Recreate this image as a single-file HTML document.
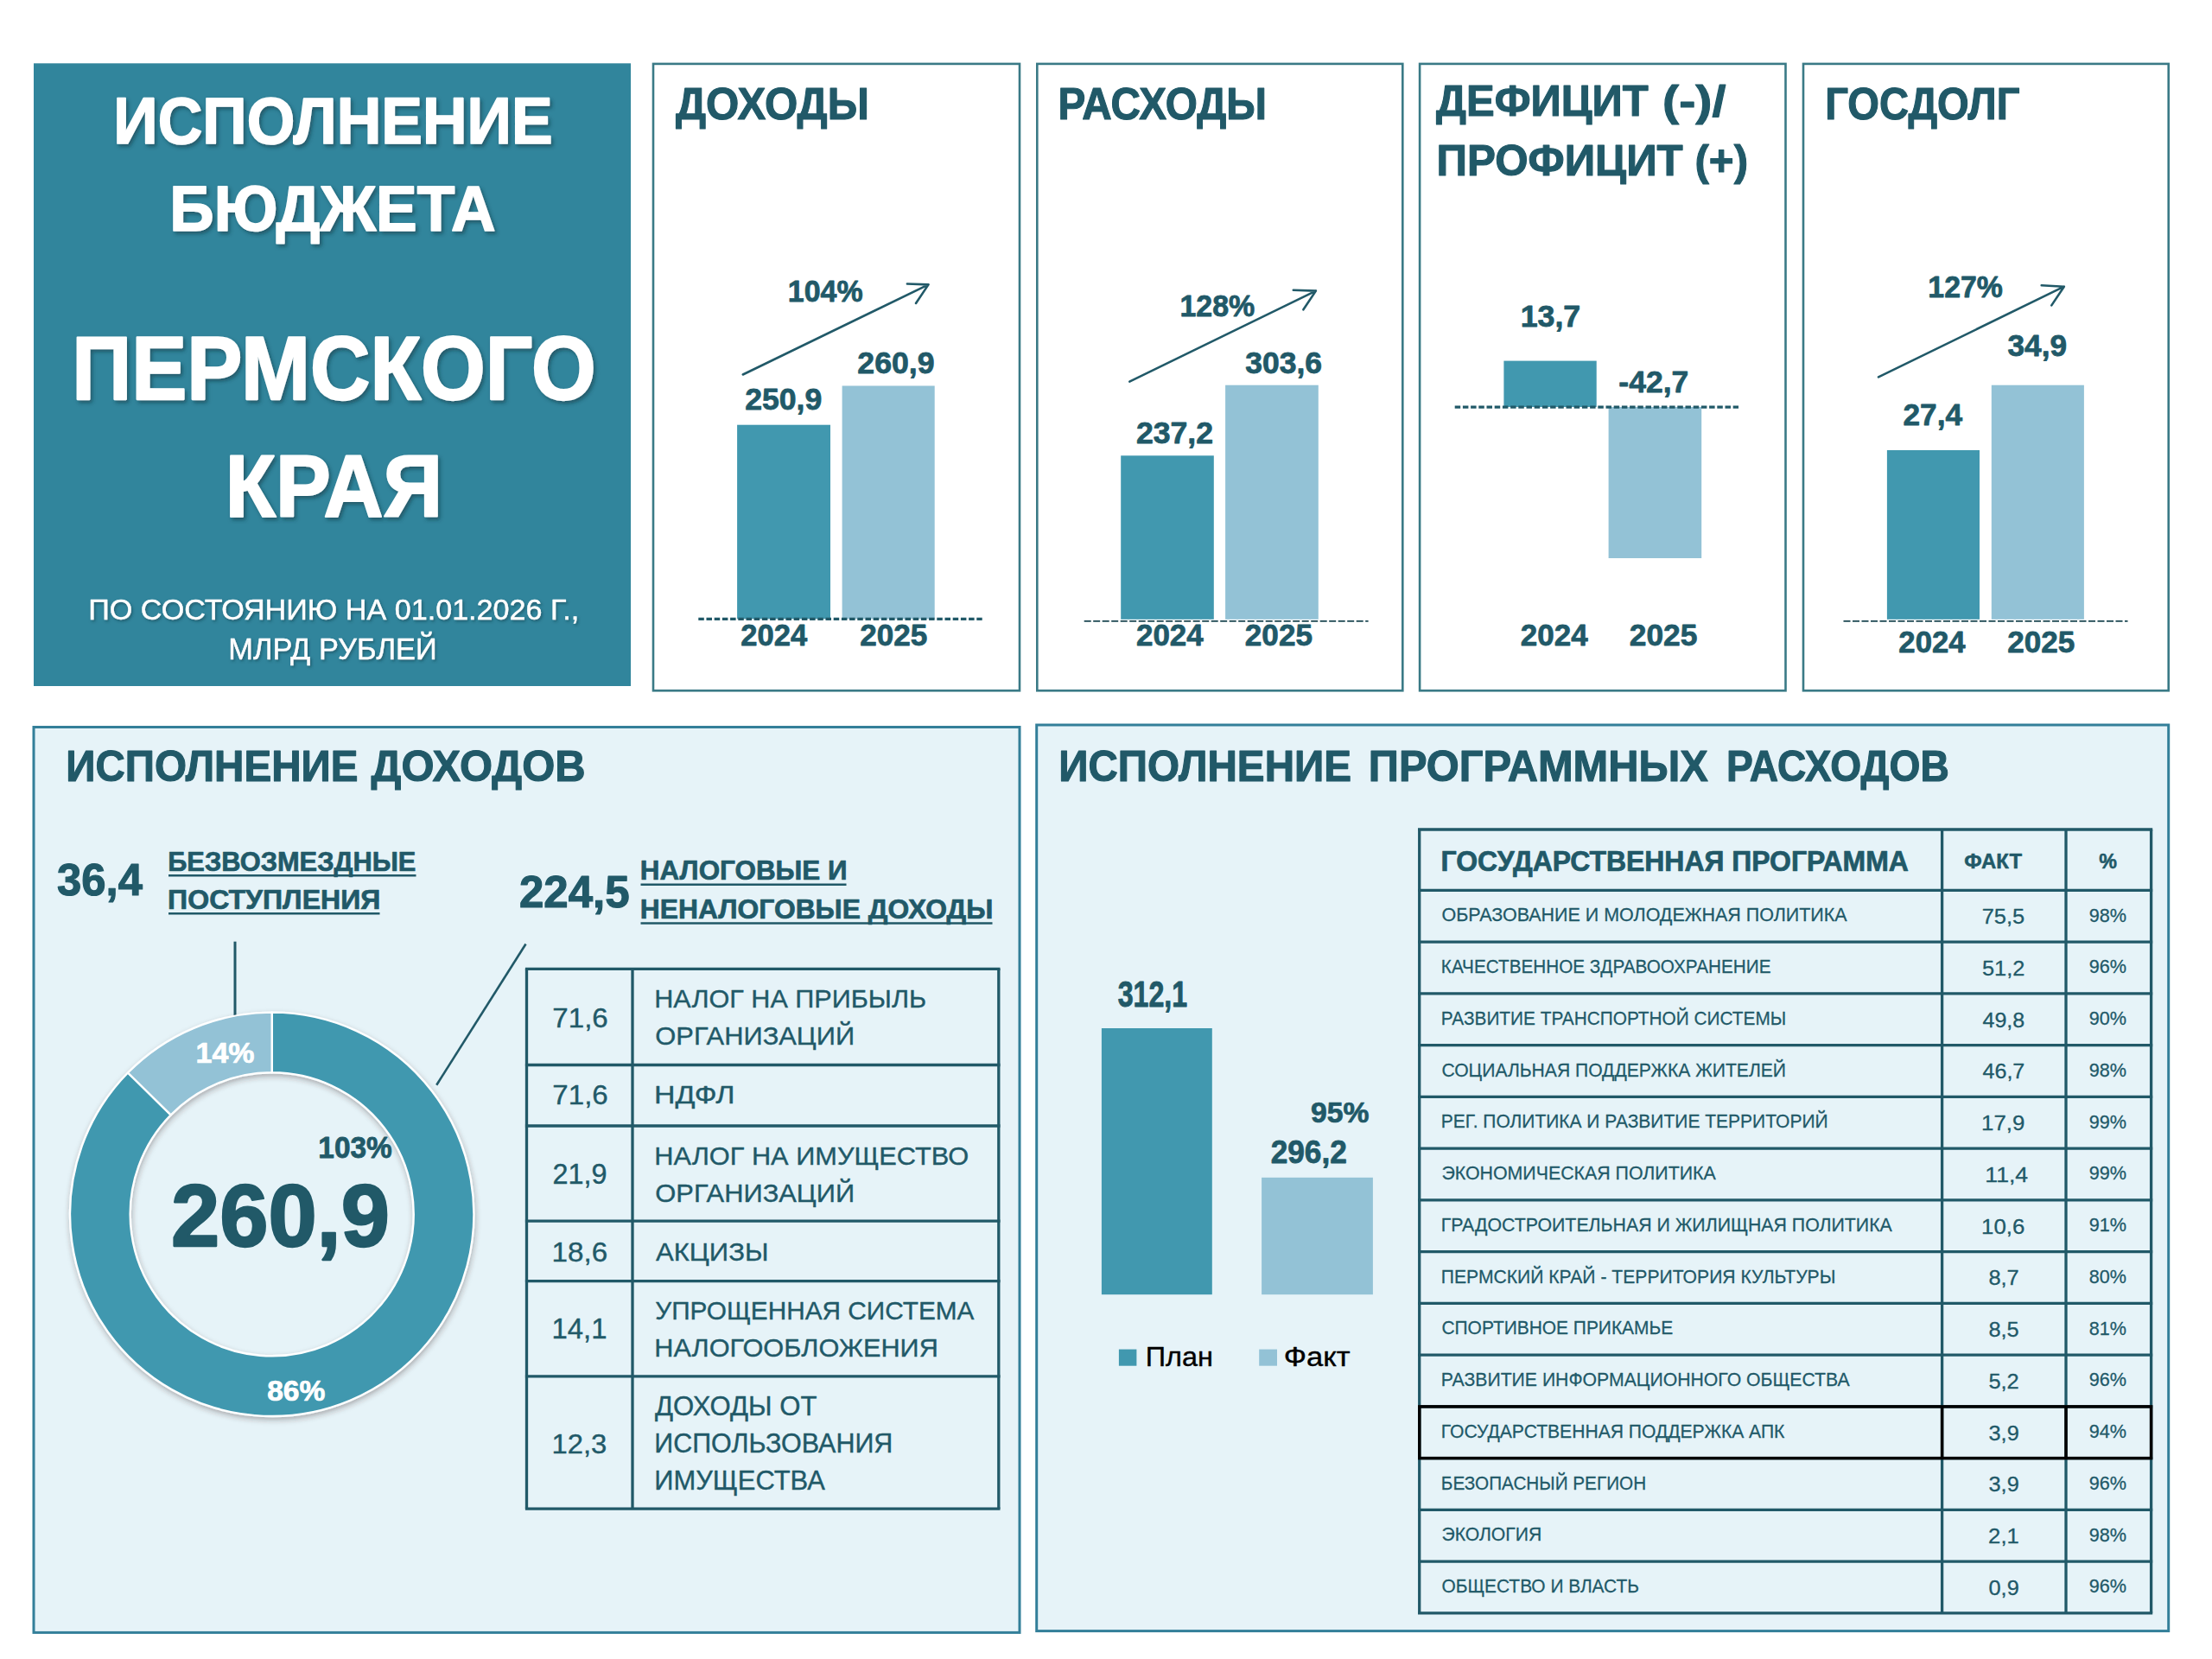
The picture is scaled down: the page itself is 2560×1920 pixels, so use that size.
<!DOCTYPE html>
<html lang="ru"><head><meta charset="utf-8"><title>Исполнение бюджета Пермского края</title>
<style>
html,body{margin:0;padding:0;background:#fff;}
body{width:2560px;height:1920px;overflow:hidden;font-family:"Liberation Sans",sans-serif;}
svg{display:block;}
text{font-family:"Liberation Sans",sans-serif;white-space:pre;}
.sh{filter:url(#tsh);}
.sh2{filter:url(#tsh2);}
</style></head><body>
<svg width="2560" height="1920" viewBox="0 0 2560 1920">
<defs>
<filter id="tsh" x="-5%" y="-20%" width="110%" height="150%"><feDropShadow dx="2.5" dy="3" stdDeviation="2.2" flood-color="#0d3440" flood-opacity="0.55"/></filter>
<filter id="tsh2" x="-5%" y="-20%" width="110%" height="150%"><feDropShadow dx="1.5" dy="2" stdDeviation="1.5" flood-color="#0d3440" flood-opacity="0.5"/></filter>
<filter id="dsh" x="-10%" y="-10%" width="120%" height="120%"><feDropShadow dx="0.8" dy="3.2" stdDeviation="3.2" flood-color="#3b2a2a" flood-opacity="0.34"/></filter>
<filter id="bsh" x="-5%" y="-5%" width="110%" height="110%"><feDropShadow dx="0" dy="1" stdDeviation="1.5" flood-color="#1a4a58" flood-opacity="0.35"/></filter>
</defs>
<rect x="39" y="73.3" width="691" height="720.7" fill="#31859C"/>
<rect x="756.0" y="73.9" width="424.0" height="725.4" fill="#fff" stroke="#3A7A86" stroke-width="2.6"/>
<rect x="1200.3" y="73.9" width="423.0" height="725.4" fill="#fff" stroke="#3A7A86" stroke-width="2.6"/>
<rect x="1643.1" y="73.9" width="423.4" height="725.4" fill="#fff" stroke="#3A7A86" stroke-width="2.6"/>
<rect x="2087.0" y="73.9" width="422.7" height="725.4" fill="#fff" stroke="#3A7A86" stroke-width="2.6"/>
<rect x="39.0" y="841.5" width="1141.0" height="1047.9" fill="#E6F3F8" stroke="#337F99" stroke-width="3.0"/>
<rect x="1199.7" y="839.0" width="1310.0" height="1048.6" fill="#E6F3F8" stroke="#337F99" stroke-width="3.0"/>
<rect x="853.1" y="491.7" width="107.9" height="224.6" fill="#4198AF"/>
<rect x="974.6" y="446.5" width="107.1" height="269.8" fill="#93C2D6"/>
<line x1="808.3" y1="716.3" x2="1136.7" y2="716.3" stroke="#215968" stroke-width="3.2" stroke-dasharray="6.5 2.7"/>
<path d="M859.8 433.5 L1074.5 329.4 M1049.9 328.5 L1074.5 329.4 L1060.0 351.0" fill="none" stroke="#215968" stroke-width="2.6" stroke-linecap="round" stroke-linejoin="round"/>
<rect x="1297.2" y="527.3" width="107.6" height="189.5" fill="#4198AF"/>
<rect x="1418.1" y="445.7" width="107.7" height="271.1" fill="#93C2D6"/>
<line x1="1254.7" y1="718.9" x2="1583.6" y2="718.9" stroke="#1D4853" stroke-width="1.8" stroke-dasharray="8 2.5"/>
<path d="M1307.3 441.6 L1522.9 336.6 M1496.8 335.7 L1522.9 336.6 L1508.4 358.3" fill="none" stroke="#215968" stroke-width="2.6" stroke-linecap="round" stroke-linejoin="round"/>
<rect x="1740.4" y="417.6" width="107.3" height="53.4" fill="#4198AF"/>
<rect x="1861.6" y="471.0" width="107.6" height="175.0" fill="#93C2D6"/>
<line x1="1683.7" y1="471.1" x2="2012.0" y2="471.1" stroke="#215968" stroke-width="3.2" stroke-dasharray="6.5 2.7"/>
<rect x="2183.9" y="521.0" width="107.1" height="195.8" fill="#4198AF"/>
<rect x="2304.8" y="445.7" width="107.1" height="271.1" fill="#93C2D6"/>
<line x1="2133.5" y1="718.9" x2="2462.5" y2="718.9" stroke="#1D4853" stroke-width="1.8" stroke-dasharray="8 2.5"/>
<path d="M2174.0 436.4 L2388.8 331.7 M2362.7 330.2 L2388.8 331.7 L2374.3 353.4" fill="none" stroke="#215968" stroke-width="2.6" stroke-linecap="round" stroke-linejoin="round"/>
<line x1="272" y1="1089.7" x2="272" y2="1175.3" stroke="#215968" stroke-width="3"/>
<line x1="608.5" y1="1092.5" x2="505.2" y2="1255.8" stroke="#215968" stroke-width="2.6"/>
<line x1="195.0" y1="1013.3" x2="481.5" y2="1013.3" stroke="#215968" stroke-width="2.4"/>
<line x1="195.0" y1="1057.3" x2="439.5" y2="1057.3" stroke="#215968" stroke-width="2.4"/>
<line x1="741.5" y1="1023.7" x2="979.5" y2="1023.7" stroke="#215968" stroke-width="2.4"/>
<line x1="741.5" y1="1068.5" x2="1148.5" y2="1068.5" stroke="#215968" stroke-width="2.4"/>
<g filter="url(#dsh)">
<path d="M314.70 1171.60 A233.70 233.70 0 1 1 148.01 1241.50 L197.73 1290.35 A164.00 164.00 0 1 0 314.70 1241.30 Z" fill="#4198AF" stroke="#fff" stroke-width="2.4" stroke-linejoin="round"/>
<path d="M148.01 1241.50 A233.70 233.70 0 0 1 314.70 1171.60 L314.70 1241.30 A164.00 164.00 0 0 0 197.73 1290.35 Z" fill="#93C2D6" stroke="#fff" stroke-width="2.4" stroke-linejoin="round"/>
</g>
<line x1="607.9" y1="1121.3" x2="1157.5" y2="1121.3" stroke="#215968" stroke-width="3.3"/>
<line x1="607.9" y1="1232.5" x2="1157.5" y2="1232.5" stroke="#215968" stroke-width="3.3"/>
<line x1="607.9" y1="1303.0" x2="1157.5" y2="1303.0" stroke="#215968" stroke-width="3.3"/>
<line x1="607.9" y1="1413.2" x2="1157.5" y2="1413.2" stroke="#215968" stroke-width="3.3"/>
<line x1="607.9" y1="1482.7" x2="1157.5" y2="1482.7" stroke="#215968" stroke-width="3.3"/>
<line x1="607.9" y1="1592.8" x2="1157.5" y2="1592.8" stroke="#215968" stroke-width="3.3"/>
<line x1="607.9" y1="1746.1" x2="1157.5" y2="1746.1" stroke="#215968" stroke-width="3.3"/>
<line x1="609.5" y1="1121.3" x2="609.5" y2="1746.1" stroke="#215968" stroke-width="3.3"/>
<line x1="732.0" y1="1121.3" x2="732.0" y2="1746.1" stroke="#215968" stroke-width="3.3"/>
<line x1="1155.8" y1="1121.3" x2="1155.8" y2="1746.1" stroke="#215968" stroke-width="3.3"/>
<rect x="1274.9" y="1190.0" width="127.9" height="308.2" fill="#4198AF"/>
<rect x="1460.1" y="1362.8" width="128.8" height="135.4" fill="#93C2D6"/>
<rect x="1294.9" y="1561.6" width="20.5" height="19.1" fill="#4198AF"/>
<rect x="1457.2" y="1561.6" width="20.8" height="19.1" fill="#93C2D6"/>
<line x1="1641.0" y1="960.0" x2="2491.2" y2="960.0" stroke="#215968" stroke-width="3.3"/>
<line x1="1641.0" y1="1030.4" x2="2491.2" y2="1030.4" stroke="#215968" stroke-width="3.3"/>
<line x1="1641.0" y1="1090.1" x2="2491.2" y2="1090.1" stroke="#215968" stroke-width="3.3"/>
<line x1="1641.0" y1="1149.9" x2="2491.2" y2="1149.9" stroke="#215968" stroke-width="3.3"/>
<line x1="1641.0" y1="1209.6" x2="2491.2" y2="1209.6" stroke="#215968" stroke-width="3.3"/>
<line x1="1641.0" y1="1269.4" x2="2491.2" y2="1269.4" stroke="#215968" stroke-width="3.3"/>
<line x1="1641.0" y1="1329.1" x2="2491.2" y2="1329.1" stroke="#215968" stroke-width="3.3"/>
<line x1="1641.0" y1="1388.9" x2="2491.2" y2="1388.9" stroke="#215968" stroke-width="3.3"/>
<line x1="1641.0" y1="1448.6" x2="2491.2" y2="1448.6" stroke="#215968" stroke-width="3.3"/>
<line x1="1641.0" y1="1508.4" x2="2491.2" y2="1508.4" stroke="#215968" stroke-width="3.3"/>
<line x1="1641.0" y1="1568.1" x2="2491.2" y2="1568.1" stroke="#215968" stroke-width="3.3"/>
<line x1="1641.0" y1="1627.9" x2="2491.2" y2="1627.9" stroke="#215968" stroke-width="3.3"/>
<line x1="1641.0" y1="1687.6" x2="2491.2" y2="1687.6" stroke="#215968" stroke-width="3.3"/>
<line x1="1641.0" y1="1747.4" x2="2491.2" y2="1747.4" stroke="#215968" stroke-width="3.3"/>
<line x1="1641.0" y1="1807.1" x2="2491.2" y2="1807.1" stroke="#215968" stroke-width="3.3"/>
<line x1="1641.0" y1="1866.8" x2="2491.2" y2="1866.8" stroke="#215968" stroke-width="3.3"/>
<line x1="1642.7" y1="960.0" x2="1642.7" y2="1866.8" stroke="#215968" stroke-width="3.3"/>
<line x1="2247.6" y1="960.0" x2="2247.6" y2="1866.8" stroke="#215968" stroke-width="3.3"/>
<line x1="2391.0" y1="960.0" x2="2391.0" y2="1866.8" stroke="#215968" stroke-width="3.3"/>
<line x1="2489.6" y1="960.0" x2="2489.6" y2="1866.8" stroke="#215968" stroke-width="3.3"/>
<rect x="1642.8" y="1627.9" width="846.8" height="59.7" fill="none" stroke="#000" stroke-width="3.5"/>
<line x1="2247.6" y1="1627.9" x2="2247.6" y2="1687.6" stroke="#000" stroke-width="3.5"/>
<line x1="2391.0" y1="1627.9" x2="2391.0" y2="1687.6" stroke="#000" stroke-width="3.5"/>
<text class="sh" transform="translate(131.35 165.80) scale(0.9355 1)" font-size="76.40" font-weight="bold" fill="#FFFFFF" stroke="#FFFFFF" stroke-width="1.68" stroke-linejoin="round">ИСПОЛНЕНИЕ</text>
<text class="sh" transform="translate(196.35 267.40) scale(0.9701 1)" font-size="73.67" font-weight="bold" fill="#FFFFFF" stroke="#FFFFFF" stroke-width="1.62" stroke-linejoin="round">БЮДЖЕТА</text>
<text class="sh" transform="translate(83.26 462.00) scale(0.9308 1)" font-size="103.17" font-weight="bold" fill="#FFFFFF" stroke="#FFFFFF" stroke-width="2.27" stroke-linejoin="round">ПЕРМСКОГО</text>
<text class="sh" transform="translate(260.79 597.90) scale(0.9392 1)" font-size="101.73" font-weight="bold" fill="#FFFFFF" stroke="#FFFFFF" stroke-width="2.24" stroke-linejoin="round">КРАЯ</text>
<text class="sh2" transform="translate(102.27 717.00) scale(1.0027 1)" font-size="34.06" fill="#FFFFFF" stroke="#FFFFFF" stroke-width="0.41" stroke-linejoin="round">ПО СОСТОЯНИЮ НА 01.01.2026 Г.,</text>
<text class="sh2" transform="translate(264.25 763.00) scale(1.0010 1)" font-size="34.35" fill="#FFFFFF" stroke="#FFFFFF" stroke-width="0.41" stroke-linejoin="round">МЛРД РУБЛЕЙ</text>
<text transform="translate(782.05 138.40) scale(0.9658 1)" font-size="50.94" font-weight="bold" fill="#215968" stroke="#215968" stroke-width="1.12" stroke-linejoin="round">ДОХОДЫ</text>
<text transform="translate(1224.60 138.40) scale(0.9373 1)" font-size="50.94" font-weight="bold" fill="#215968" stroke="#215968" stroke-width="1.12" stroke-linejoin="round">РАСХОДЫ</text>
<text transform="translate(1662.05 134.40) scale(0.9788 1)" font-size="50.07" font-weight="bold" fill="#215968" stroke="#215968" stroke-width="1.10" stroke-linejoin="round">ДЕФИЦИТ</text>
<text transform="translate(1924.12 134.40) scale(1.1470 1)" font-size="50.07" font-weight="bold" fill="#215968" stroke="#215968" stroke-width="1.10" stroke-linejoin="round">(-)/</text>
<text transform="translate(1662.49 202.60) scale(0.9968 1)" font-size="49.50" font-weight="bold" fill="#215968" stroke="#215968" stroke-width="1.09" stroke-linejoin="round">ПРОФИЦИТ (+)</text>
<text transform="translate(2112.23 138.40) scale(0.9263 1)" font-size="50.94" font-weight="bold" fill="#215968" stroke="#215968" stroke-width="1.12" stroke-linejoin="round">ГОСДОЛГ</text>
<text transform="translate(911.86 349.40) scale(0.9613 1)" font-size="35.29" font-weight="bold" fill="#215968" stroke="#215968" stroke-width="0.78" stroke-linejoin="round">104%</text>
<text transform="translate(992.33 432.40) scale(1.0097 1)" font-size="35.29" font-weight="bold" fill="#215968" stroke="#215968" stroke-width="0.78" stroke-linejoin="round">260,9</text>
<text transform="translate(862.13 473.60) scale(1.0097 1)" font-size="35.29" font-weight="bold" fill="#215968" stroke="#215968" stroke-width="0.78" stroke-linejoin="round">250,9</text>
<text transform="translate(857.26 747.00) scale(0.9794 1)" font-size="35.29" font-weight="bold" fill="#215968" stroke="#215968" stroke-width="0.78" stroke-linejoin="round">2024</text>
<text transform="translate(995.25 747.00) scale(0.9946 1)" font-size="35.29" font-weight="bold" fill="#215968" stroke="#215968" stroke-width="0.78" stroke-linejoin="round">2025</text>
<text transform="translate(1365.46 365.90) scale(0.9613 1)" font-size="35.29" font-weight="bold" fill="#215968" stroke="#215968" stroke-width="0.78" stroke-linejoin="round">128%</text>
<text transform="translate(1441.19 432.40) scale(1.0056 1)" font-size="35.29" font-weight="bold" fill="#215968" stroke="#215968" stroke-width="0.78" stroke-linejoin="round">303,6</text>
<text transform="translate(1314.93 513.20) scale(1.0097 1)" font-size="35.29" font-weight="bold" fill="#215968" stroke="#215968" stroke-width="0.78" stroke-linejoin="round">237,2</text>
<text transform="translate(1314.95 747.00) scale(0.9910 1)" font-size="35.29" font-weight="bold" fill="#215968" stroke="#215968" stroke-width="0.78" stroke-linejoin="round">2024</text>
<text transform="translate(1440.85 747.00) scale(0.9946 1)" font-size="35.29" font-weight="bold" fill="#215968" stroke="#215968" stroke-width="0.78" stroke-linejoin="round">2025</text>
<text transform="translate(1759.65 378.10) scale(1.0137 1)" font-size="35.29" font-weight="bold" fill="#215968" stroke="#215968" stroke-width="0.78" stroke-linejoin="round">13,7</text>
<text transform="translate(1873.36 454.20) scale(1.0059 1)" font-size="35.29" font-weight="bold" fill="#215968" stroke="#215968" stroke-width="0.78" stroke-linejoin="round">-42,7</text>
<text transform="translate(1759.85 747.00) scale(0.9910 1)" font-size="35.29" font-weight="bold" fill="#215968" stroke="#215968" stroke-width="0.78" stroke-linejoin="round">2024</text>
<text transform="translate(1885.74 747.00) scale(1.0024 1)" font-size="35.29" font-weight="bold" fill="#215968" stroke="#215968" stroke-width="0.78" stroke-linejoin="round">2025</text>
<text transform="translate(2231.37 344.20) scale(0.9579 1)" font-size="35.29" font-weight="bold" fill="#215968" stroke="#215968" stroke-width="0.78" stroke-linejoin="round">127%</text>
<text transform="translate(2323.50 411.60) scale(0.9986 1)" font-size="35.29" font-weight="bold" fill="#215968" stroke="#215968" stroke-width="0.78" stroke-linejoin="round">34,9</text>
<text transform="translate(2202.54 491.50) scale(0.9974 1)" font-size="35.29" font-weight="bold" fill="#215968" stroke="#215968" stroke-width="0.78" stroke-linejoin="round">27,4</text>
<text transform="translate(2197.36 754.90) scale(0.9832 1)" font-size="35.29" font-weight="bold" fill="#215968" stroke="#215968" stroke-width="0.78" stroke-linejoin="round">2024</text>
<text transform="translate(2323.15 754.90) scale(0.9946 1)" font-size="35.29" font-weight="bold" fill="#215968" stroke="#215968" stroke-width="0.78" stroke-linejoin="round">2025</text>
<text transform="translate(76.21 904.10) scale(0.9502 1)" font-size="50.07" font-weight="bold" fill="#215968" stroke="#215968" stroke-width="1.10" stroke-linejoin="round">ИСПОЛНЕНИЕ</text>
<text transform="translate(429.56 904.10) scale(0.9769 1)" font-size="50.07" font-weight="bold" fill="#215968" stroke="#215968" stroke-width="1.10" stroke-linejoin="round">ДОХОДОВ</text>
<text transform="translate(66.08 1036.40) scale(0.9989 1)" font-size="50.86" font-weight="bold" fill="#215968" stroke="#215968" stroke-width="1.12" stroke-linejoin="round">36,4</text>
<text transform="translate(194.20 1008.00) scale(0.9916 1)" font-size="31.08" font-weight="bold" fill="#215968" stroke="#215968" stroke-width="0.68" stroke-linejoin="round">БЕЗВОЗМЕЗДНЫЕ</text>
<text transform="translate(194.11 1051.50) scale(1.0004 1)" font-size="32.09" font-weight="bold" fill="#215968" stroke="#215968" stroke-width="0.71" stroke-linejoin="round">ПОСТУПЛЕНИЯ</text>
<text transform="translate(600.97 1050.30) scale(0.9975 1)" font-size="51.14" font-weight="bold" fill="#215968" stroke="#215968" stroke-width="1.13" stroke-linejoin="round">224,5</text>
<text transform="translate(740.86 1017.90) scale(1.0065 1)" font-size="31.22" font-weight="bold" fill="#215968" stroke="#215968" stroke-width="0.69" stroke-linejoin="round">НАЛОГОВЫЕ И</text>
<text transform="translate(740.83 1062.70) scale(0.9908 1)" font-size="32.09" font-weight="bold" fill="#215968" stroke="#215968" stroke-width="0.71" stroke-linejoin="round">НЕНАЛОГОВЫЕ ДОХОДЫ</text>
<text transform="translate(226.56 1230.30) scale(1.0517 1)" font-size="32.29" font-weight="bold" fill="#FFFFFF" stroke="#FFFFFF" stroke-width="0.71" stroke-linejoin="round">14%</text>
<text transform="translate(368.29 1339.50) scale(0.9476 1)" font-size="35.29" font-weight="bold" fill="#215968" stroke="#215968" stroke-width="0.78" stroke-linejoin="round">103%</text>
<text transform="translate(197.97 1442.30) scale(0.9842 1)" font-size="102.71" font-weight="bold" fill="#215968" stroke="#215968" stroke-width="2.26" stroke-linejoin="round">260,9</text>
<text transform="translate(309.19 1621.40) scale(1.0311 1)" font-size="32.57" font-weight="bold" fill="#FFFFFF" stroke="#FFFFFF" stroke-width="0.72" stroke-linejoin="round">86%</text>
<text transform="translate(639.35 1188.60) scale(1.0251 1)" font-size="32.29" fill="#215968" stroke="#215968" stroke-width="0.39" stroke-linejoin="round">71,6</text>
<text transform="translate(757.25 1166.00) scale(1.0156 1)" font-size="30.14" fill="#215968" stroke="#215968" stroke-width="0.36" stroke-linejoin="round">НАЛОГ НА ПРИБЫЛЬ</text>
<text transform="translate(758.31 1209.40) scale(1.0247 1)" font-size="30.14" fill="#215968" stroke="#215968" stroke-width="0.36" stroke-linejoin="round">ОРГАНИЗАЦИЙ</text>
<text transform="translate(639.35 1278.30) scale(1.0677 1)" font-size="31.00" fill="#215968" stroke="#215968" stroke-width="0.37" stroke-linejoin="round">71,6</text>
<text transform="translate(756.99 1277.40) scale(1.1256 1)" font-size="30.14" fill="#215968" stroke="#215968" stroke-width="0.36" stroke-linejoin="round">НДФЛ</text>
<text transform="translate(639.38 1370.30) scale(1.0028 1)" font-size="32.29" fill="#215968" stroke="#215968" stroke-width="0.39" stroke-linejoin="round">21,9</text>
<text transform="translate(757.24 1347.70) scale(1.0207 1)" font-size="30.14" fill="#215968" stroke="#215968" stroke-width="0.36" stroke-linejoin="round">НАЛОГ НА ИМУЩЕСТВО</text>
<text transform="translate(758.31 1391.10) scale(1.0247 1)" font-size="30.14" fill="#215968" stroke="#215968" stroke-width="0.36" stroke-linejoin="round">ОРГАНИЗАЦИЙ</text>
<text transform="translate(638.51 1459.60) scale(1.0428 1)" font-size="31.86" fill="#215968" stroke="#215968" stroke-width="0.38" stroke-linejoin="round">18,6</text>
<text transform="translate(759.00 1458.70) scale(1.0314 1)" font-size="30.14" fill="#215968" stroke="#215968" stroke-width="0.36" stroke-linejoin="round">АКЦИЗЫ</text>
<text transform="translate(638.53 1549.30) scale(0.9876 1)" font-size="33.29" fill="#215968" stroke="#215968" stroke-width="0.40" stroke-linejoin="round">14,1</text>
<text transform="translate(758.26 1526.70) scale(0.9881 1)" font-size="30.14" fill="#215968" stroke="#215968" stroke-width="0.36" stroke-linejoin="round">УПРОЩЕННАЯ СИСТЕМА</text>
<text transform="translate(757.24 1570.10) scale(1.0187 1)" font-size="30.14" fill="#215968" stroke="#215968" stroke-width="0.36" stroke-linejoin="round">НАЛОГООБЛОЖЕНИЯ</text>
<text transform="translate(638.54 1681.50) scale(1.0291 1)" font-size="31.86" fill="#215968" stroke="#215968" stroke-width="0.38" stroke-linejoin="round">12,3</text>
<text transform="translate(758.04 1637.50) scale(1.0165 1)" font-size="30.58" fill="#215968" stroke="#215968" stroke-width="0.37" stroke-linejoin="round">ДОХОДЫ ОТ</text>
<text transform="translate(757.26 1680.90) scale(0.9688 1)" font-size="31.45" fill="#215968" stroke="#215968" stroke-width="0.38" stroke-linejoin="round">ИСПОЛЬЗОВАНИЯ</text>
<text transform="translate(757.23 1723.50) scale(0.9925 1)" font-size="31.16" fill="#215968" stroke="#215968" stroke-width="0.37" stroke-linejoin="round">ИМУЩЕСТВА</text>
<text transform="translate(1225.20 904.10) scale(0.9519 1)" font-size="50.07" font-weight="bold" fill="#215968" stroke="#215968" stroke-width="1.10" stroke-linejoin="round">ИСПОЛНЕНИЕ</text>
<text transform="translate(1583.83 904.10) scale(0.9747 1)" font-size="50.07" font-weight="bold" fill="#215968" stroke="#215968" stroke-width="1.10" stroke-linejoin="round">ПРОГРАММНЫХ</text>
<text transform="translate(1998.10 904.10) scale(0.9227 1)" font-size="50.07" font-weight="bold" fill="#215968" stroke="#215968" stroke-width="1.10" stroke-linejoin="round">РАСХОДОВ</text>
<text transform="translate(1293.66 1165.30) scale(0.7684 1)" font-size="41.86" font-weight="bold" fill="#215968" stroke="#215968" stroke-width="0.92" stroke-linejoin="round">312,1</text>
<text transform="translate(1516.99 1299.00) scale(1.0035 1)" font-size="33.57" font-weight="bold" fill="#215968" stroke="#215968" stroke-width="0.74" stroke-linejoin="round">95%</text>
<text transform="translate(1470.64 1346.00) scale(0.9755 1)" font-size="36.14" font-weight="bold" fill="#215968" stroke="#215968" stroke-width="0.80" stroke-linejoin="round">296,2</text>
<text transform="translate(1325.71 1581.30) scale(1.0312 1)" font-size="31.45" fill="#000000" stroke="#000000" stroke-width="0.38" stroke-linejoin="round">План</text>
<text transform="translate(1485.70 1581.30) scale(1.0977 1)" font-size="31.45" fill="#000000" stroke="#000000" stroke-width="0.38" stroke-linejoin="round">Факт</text>
<text transform="translate(1667.52 1008.20) scale(0.9487 1)" font-size="33.67" font-weight="bold" fill="#215968" stroke="#215968" stroke-width="0.74" stroke-linejoin="round">ГОСУДАРСТВЕННАЯ ПРОГРАММА</text>
<text transform="translate(2273.28 1005.00) scale(0.9773 1)" font-size="24.46" font-weight="bold" fill="#215968" stroke="#215968" stroke-width="0.54" stroke-linejoin="round">ФАКТ</text>
<text transform="translate(2429.33 1005.00) scale(0.9600 1)" font-size="24.29" font-weight="bold" fill="#215968" stroke="#215968" stroke-width="0.53" stroke-linejoin="round">%</text>
<text transform="translate(1668.53 1066.30) scale(1.0011 1)" font-size="21.45" fill="#215968" stroke="#215968" stroke-width="0.26" stroke-linejoin="round">ОБРАЗОВАНИЕ И МОЛОДЕЖНАЯ ПОЛИТИКА</text>
<text transform="translate(2293.73 1069.20) scale(1.0295 1)" font-size="24.71" fill="#215968" stroke="#215968" stroke-width="0.30" stroke-linejoin="round">75,5</text>
<text transform="translate(2417.63 1066.70) scale(1.0032 1)" font-size="21.57" fill="#215968" stroke="#215968" stroke-width="0.26" stroke-linejoin="round">98%</text>
<text transform="translate(1667.84 1126.05) scale(0.9659 1)" font-size="21.45" fill="#215968" stroke="#215968" stroke-width="0.26" stroke-linejoin="round">КАЧЕСТВЕННОЕ ЗДРАВООХРАНЕНИЕ</text>
<text transform="translate(2293.99 1128.95) scale(1.0267 1)" font-size="24.71" fill="#215968" stroke="#215968" stroke-width="0.30" stroke-linejoin="round">51,2</text>
<text transform="translate(2417.63 1126.45) scale(1.0032 1)" font-size="21.57" fill="#215968" stroke="#215968" stroke-width="0.26" stroke-linejoin="round">96%</text>
<text transform="translate(1667.84 1185.79) scale(0.9702 1)" font-size="21.45" fill="#215968" stroke="#215968" stroke-width="0.26" stroke-linejoin="round">РАЗВИТИЕ ТРАНСПОРТНОЙ СИСТЕМЫ</text>
<text transform="translate(2294.50 1188.69) scale(1.0131 1)" font-size="24.71" fill="#215968" stroke="#215968" stroke-width="0.30" stroke-linejoin="round">49,8</text>
<text transform="translate(2417.63 1186.19) scale(1.0032 1)" font-size="21.57" fill="#215968" stroke="#215968" stroke-width="0.26" stroke-linejoin="round">90%</text>
<text transform="translate(1668.44 1245.54) scale(0.9842 1)" font-size="21.45" fill="#215968" stroke="#215968" stroke-width="0.26" stroke-linejoin="round">СОЦИАЛЬНАЯ ПОДДЕРЖКА ЖИТЕЛЕЙ</text>
<text transform="translate(2294.50 1248.44) scale(1.0158 1)" font-size="24.71" fill="#215968" stroke="#215968" stroke-width="0.30" stroke-linejoin="round">46,7</text>
<text transform="translate(2417.63 1245.94) scale(1.0032 1)" font-size="21.57" fill="#215968" stroke="#215968" stroke-width="0.26" stroke-linejoin="round">98%</text>
<text transform="translate(1667.82 1305.28) scale(0.9797 1)" font-size="21.45" fill="#215968" stroke="#215968" stroke-width="0.26" stroke-linejoin="round">РЕГ. ПОЛИТИКА И РАЗВИТИЕ ТЕРРИТОРИЙ</text>
<text transform="translate(2293.06 1308.18) scale(1.0464 1)" font-size="24.71" fill="#215968" stroke="#215968" stroke-width="0.30" stroke-linejoin="round">17,9</text>
<text transform="translate(2417.63 1305.68) scale(1.0032 1)" font-size="21.57" fill="#215968" stroke="#215968" stroke-width="0.26" stroke-linejoin="round">99%</text>
<text transform="translate(1668.43 1365.03) scale(0.9958 1)" font-size="21.45" fill="#215968" stroke="#215968" stroke-width="0.26" stroke-linejoin="round">ЭКОНОМИЧЕСКАЯ ПОЛИТИКА</text>
<text transform="translate(2297.30 1367.93) scale(1.0784 1)" font-size="24.71" fill="#215968" stroke="#215968" stroke-width="0.30" stroke-linejoin="round">11,4</text>
<text transform="translate(2417.63 1365.43) scale(1.0032 1)" font-size="21.57" fill="#215968" stroke="#215968" stroke-width="0.26" stroke-linejoin="round">99%</text>
<text transform="translate(1667.79 1424.78) scale(0.9937 1)" font-size="21.45" fill="#215968" stroke="#215968" stroke-width="0.26" stroke-linejoin="round">ГРАДОСТРОИТЕЛЬНАЯ И ЖИЛИЩНАЯ ПОЛИТИКА</text>
<text transform="translate(2293.07 1427.68) scale(1.0435 1)" font-size="24.71" fill="#215968" stroke="#215968" stroke-width="0.30" stroke-linejoin="round">10,6</text>
<text transform="translate(2417.63 1425.18) scale(1.0032 1)" font-size="21.57" fill="#215968" stroke="#215968" stroke-width="0.26" stroke-linejoin="round">91%</text>
<text transform="translate(1667.81 1484.52) scale(0.9851 1)" font-size="21.45" fill="#215968" stroke="#215968" stroke-width="0.26" stroke-linejoin="round">ПЕРМСКИЙ КРАЙ - ТЕРРИТОРИЯ КУЛЬТУРЫ</text>
<text transform="translate(2301.38 1487.42) scale(1.0302 1)" font-size="24.71" fill="#215968" stroke="#215968" stroke-width="0.30" stroke-linejoin="round">8,7</text>
<text transform="translate(2417.74 1484.92) scale(1.0006 1)" font-size="21.57" fill="#215968" stroke="#215968" stroke-width="0.26" stroke-linejoin="round">80%</text>
<text transform="translate(1668.45 1544.27) scale(0.9761 1)" font-size="21.45" fill="#215968" stroke="#215968" stroke-width="0.26" stroke-linejoin="round">СПОРТИВНОЕ ПРИКАМЬЕ</text>
<text transform="translate(2301.39 1547.17) scale(1.0263 1)" font-size="24.71" fill="#215968" stroke="#215968" stroke-width="0.30" stroke-linejoin="round">8,5</text>
<text transform="translate(2417.74 1544.67) scale(1.0006 1)" font-size="21.57" fill="#215968" stroke="#215968" stroke-width="0.26" stroke-linejoin="round">81%</text>
<text transform="translate(1667.80 1604.01) scale(0.9890 1)" font-size="21.45" fill="#215968" stroke="#215968" stroke-width="0.26" stroke-linejoin="round">РАЗВИТИЕ ИНФОРМАЦИОННОГО ОБЩЕСТВА</text>
<text transform="translate(2301.38 1606.91) scale(1.0302 1)" font-size="24.71" fill="#215968" stroke="#215968" stroke-width="0.30" stroke-linejoin="round">5,2</text>
<text transform="translate(2417.63 1604.41) scale(1.0032 1)" font-size="21.57" fill="#215968" stroke="#215968" stroke-width="0.26" stroke-linejoin="round">96%</text>
<text transform="translate(1667.81 1663.76) scale(0.9841 1)" font-size="21.45" fill="#215968" stroke="#215968" stroke-width="0.26" stroke-linejoin="round">ГОСУДАРСТВЕННАЯ ПОДДЕРЖКА АПК</text>
<text transform="translate(2301.51 1666.66) scale(1.0263 1)" font-size="24.71" fill="#215968" stroke="#215968" stroke-width="0.30" stroke-linejoin="round">3,9</text>
<text transform="translate(2417.63 1664.16) scale(1.0032 1)" font-size="21.57" fill="#215968" stroke="#215968" stroke-width="0.26" stroke-linejoin="round">94%</text>
<text transform="translate(1667.84 1723.51) scale(0.9659 1)" font-size="21.45" fill="#215968" stroke="#215968" stroke-width="0.26" stroke-linejoin="round">БЕЗОПАСНЫЙ РЕГИОН</text>
<text transform="translate(2301.51 1726.41) scale(1.0263 1)" font-size="24.71" fill="#215968" stroke="#215968" stroke-width="0.30" stroke-linejoin="round">3,9</text>
<text transform="translate(2417.63 1723.91) scale(1.0032 1)" font-size="21.57" fill="#215968" stroke="#215968" stroke-width="0.26" stroke-linejoin="round">96%</text>
<text transform="translate(1668.44 1783.25) scale(0.9863 1)" font-size="21.45" fill="#215968" stroke="#215968" stroke-width="0.26" stroke-linejoin="round">ЭКОЛОГИЯ</text>
<text transform="translate(2301.12 1786.15) scale(1.0382 1)" font-size="24.71" fill="#215968" stroke="#215968" stroke-width="0.30" stroke-linejoin="round">2,1</text>
<text transform="translate(2417.63 1783.65) scale(1.0032 1)" font-size="21.57" fill="#215968" stroke="#215968" stroke-width="0.26" stroke-linejoin="round">98%</text>
<text transform="translate(1668.56 1843.00) scale(0.9740 1)" font-size="21.45" fill="#215968" stroke="#215968" stroke-width="0.26" stroke-linejoin="round">ОБЩЕСТВО И ВЛАСТЬ</text>
<text transform="translate(2301.51 1845.90) scale(1.0263 1)" font-size="24.71" fill="#215968" stroke="#215968" stroke-width="0.30" stroke-linejoin="round">0,9</text>
<text transform="translate(2417.63 1843.40) scale(1.0032 1)" font-size="21.57" fill="#215968" stroke="#215968" stroke-width="0.26" stroke-linejoin="round">96%</text>
</svg>
</body></html>
